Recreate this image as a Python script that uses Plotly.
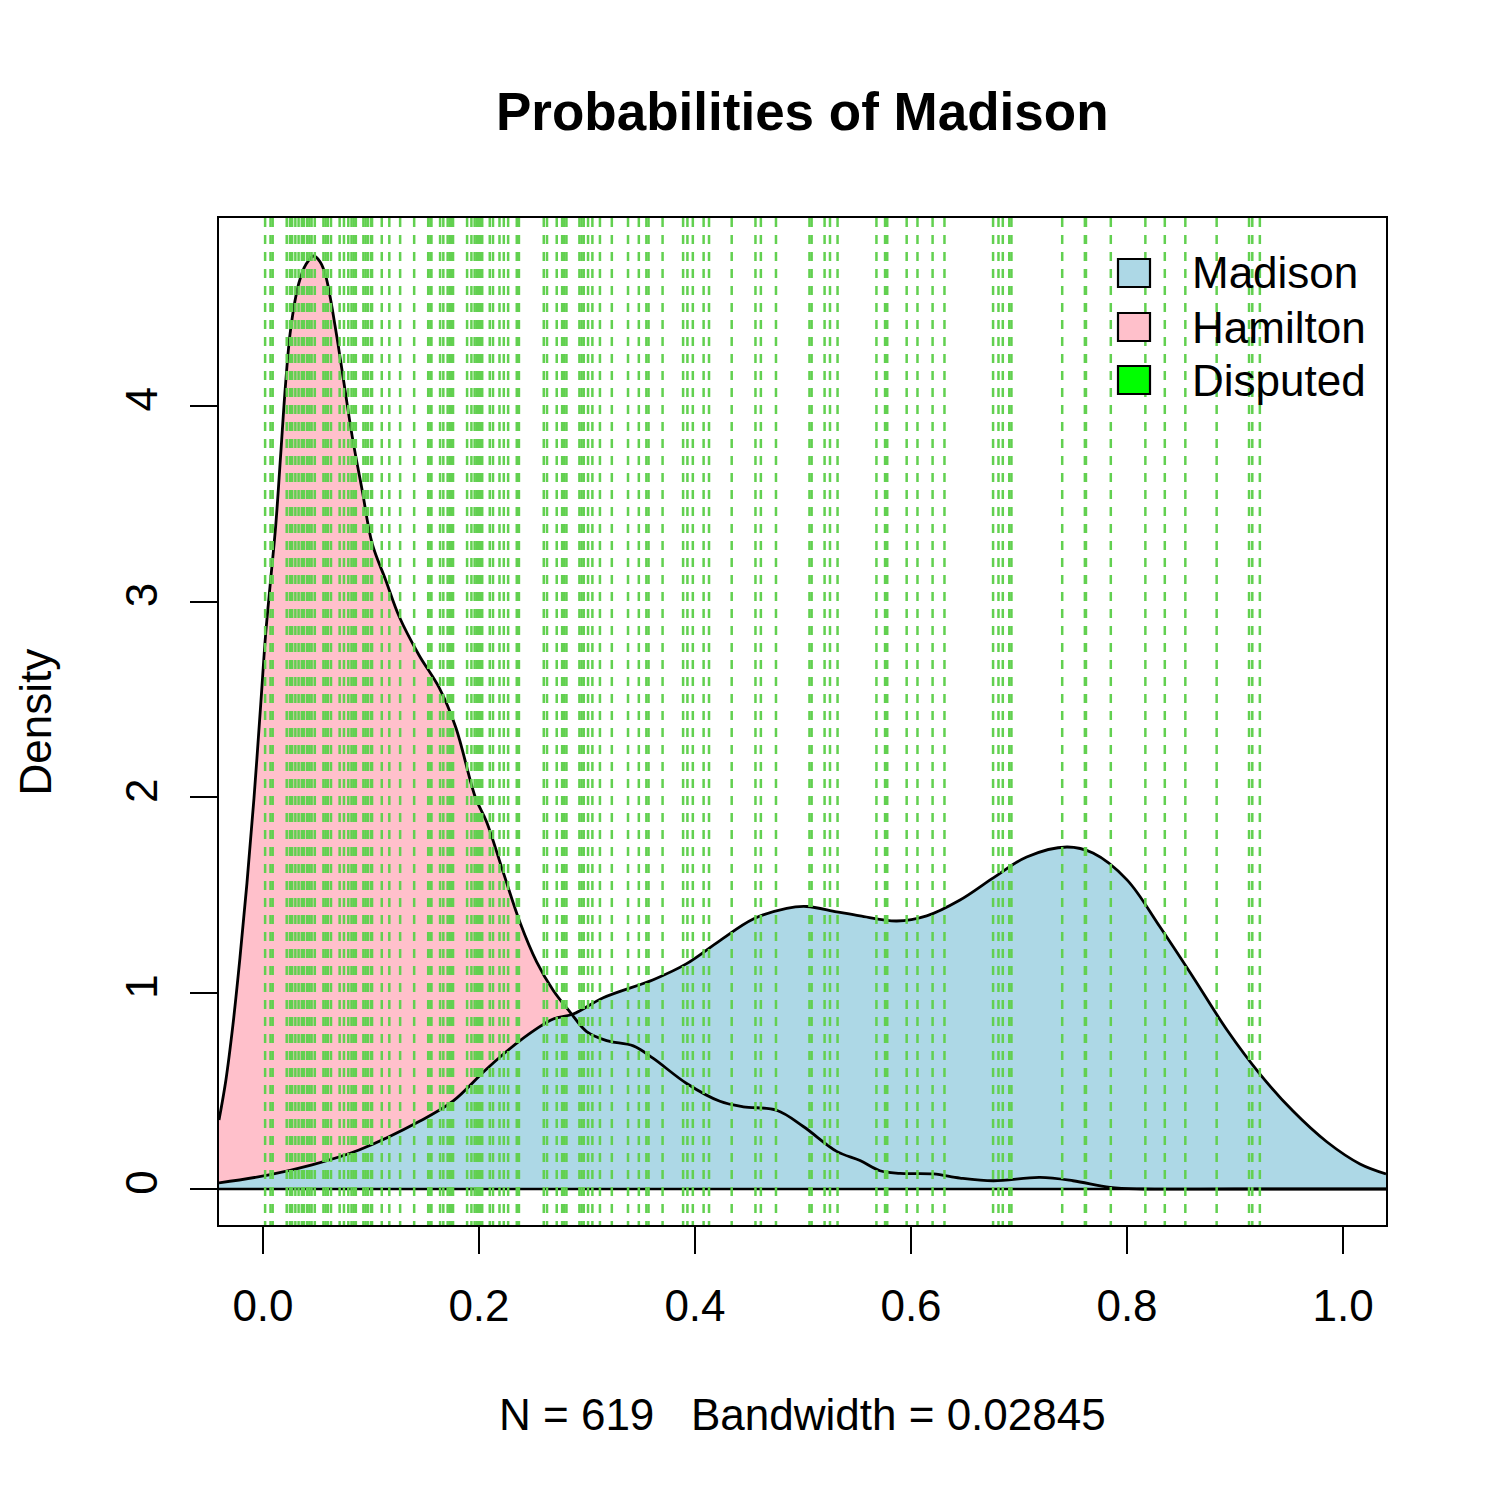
import plotly.graph_objects as go

# ---------------- data ----------------
hamilton_x = [-0.0407, -0.0343, -0.0278, -0.0213, -0.0148, -0.0083, -0.0021, 0.0025, 0.0071, 0.0118,
              0.0164, 0.0210, 0.0256, 0.0333, 0.0400, 0.0472, 0.0530, 0.0581, 0.0673, 0.0750,
              0.0827, 0.0919, 0.1012, 0.1136, 0.1259, 0.1444, 0.1630, 0.1784, 0.1969, 0.2071,
              0.2225, 0.2380, 0.2534, 0.2688, 0.2843, 0.2997, 0.3182, 0.3429, 0.3614, 0.3923,
              0.4231, 0.4447, 0.4756, 0.5003, 0.5312, 0.5528, 0.5713, 0.5898, 0.6208, 0.6454,
              0.6762, 0.7194, 0.7500, 0.7843, 0.8148, 0.9000, 1.0398]
hamilton_y = [0.352, 0.557, 0.838, 1.180, 1.563, 1.997, 2.473, 2.835, 3.111, 3.387,
              3.750, 4.117, 4.391, 4.628, 4.725, 4.766, 4.735, 4.664, 4.391, 4.117,
              3.842, 3.568, 3.295, 3.111, 2.927, 2.728, 2.562, 2.360, 1.997, 1.875,
              1.617, 1.361, 1.160, 1.014, 0.904, 0.804, 0.758, 0.731, 0.667, 0.539,
              0.448, 0.420, 0.402, 0.319, 0.192, 0.145, 0.093, 0.080, 0.077, 0.056,
              0.042, 0.059, 0.042, 0.008, 0.000, 0.000, 0.000]

madison_x = [-0.0407, 0.0056, 0.0454, 0.0889, 0.1454, 0.1762, 0.2071, 0.2380, 0.2688, 0.2873,
             0.3151, 0.3614, 0.3923, 0.4231, 0.4540, 0.4849, 0.5034, 0.5312, 0.5528, 0.5868,
             0.6145, 0.6454, 0.6762, 0.7071, 0.7444, 0.7685, 0.8000, 0.8306, 0.8611, 0.8926,
             0.9231, 0.9537, 0.9852, 1.0157, 1.0398]
madison_y = [0.031, 0.072, 0.123, 0.199, 0.347, 0.450, 0.613, 0.758, 0.868, 0.894,
             0.977, 1.069, 1.151, 1.269, 1.379, 1.434, 1.443, 1.416, 1.395, 1.369,
             1.395, 1.476, 1.589, 1.696, 1.747, 1.716, 1.579, 1.338, 1.083, 0.812,
             0.587, 0.398, 0.240, 0.128, 0.077]

disputed_probs = [0.002, 0.007, 0.009, 0.022, 0.025, 0.027, 0.030, 0.033, 0.036, 0.038,
                  0.041, 0.043, 0.045, 0.048, 0.056, 0.058, 0.060, 0.063, 0.071, 0.075,
                  0.079, 0.082, 0.084, 0.086, 0.093, 0.095, 0.097, 0.100, 0.101, 0.110,
                  0.117, 0.127, 0.140, 0.153, 0.155, 0.156, 0.164, 0.167, 0.171, 0.173,
                  0.174, 0.176, 0.189, 0.193, 0.196, 0.198, 0.199, 0.201, 0.203, 0.210,
                  0.213, 0.219, 0.223, 0.227, 0.235, 0.237, 0.260, 0.263, 0.272, 0.277,
                  0.279, 0.281, 0.293, 0.295, 0.297, 0.301, 0.305, 0.312, 0.323, 0.338,
                  0.348, 0.355, 0.357, 0.370, 0.389, 0.393, 0.398, 0.408, 0.413, 0.434,
                  0.456, 0.461, 0.475, 0.506, 0.508, 0.520, 0.525, 0.532, 0.568, 0.576,
                  0.578, 0.596, 0.606, 0.620, 0.631, 0.676, 0.681, 0.685, 0.691, 0.693,
                  0.740, 0.761, 0.762, 0.785, 0.817, 0.835, 0.854, 0.883, 0.913, 0.916,
                  0.923]

x_ticks = [0.0, 0.2, 0.4, 0.6, 0.8, 1.0]
y_ticks = [0, 1, 2, 3, 4]
legend_labels = ["Madison", "Hamilton", "Disputed"]
legend_colors = ["#ADD8E6", "#FFC0CB", "#00FF00"]

title_text = "Probabilities of Madison"
xlabel_text = "N = 619   Bandwidth = 0.02845"
ylabel_text = "Density"

# ---------------- layout constants (page pixels) ----------------
OFF = 8                      # page body margin
W = H = 1499 - OFF
L, R, T, B = 219, 1386, 218, 1225   # plot frame in page pixels
XR = [-0.0407, 1.0398]
YR = [-0.184, 4.960]
FONT = "Liberation Sans, Arial, Helvetica, sans-serif"
FS = 44
GREEN = "rgb(98,208,80)"


def px2paper_x(px):
    return (px - L) / (R - L)


def px2paper_y(py):
    return (B - py) / (B - T)


fig = go.Figure()

SPL = dict(shape="spline", smoothing=1.0)
fig.add_trace(go.Scatter(x=hamilton_x, y=hamilton_y, mode="lines", fill="tozeroy",
                         fillcolor="#FFC0CB", line=dict(width=0, **SPL),
                         hoverinfo="skip", showlegend=False))
fig.add_trace(go.Scatter(x=madison_x, y=madison_y, mode="lines", fill="tozeroy",
                         fillcolor="#ADD8E6", line=dict(width=0, **SPL),
                         hoverinfo="skip", showlegend=False))
fig.add_trace(go.Scatter(x=hamilton_x, y=hamilton_y, mode="lines",
                         line=dict(color="black", width=2.8, **SPL), showlegend=False))
fig.add_trace(go.Scatter(x=madison_x, y=madison_y, mode="lines",
                         line=dict(color="black", width=2.8, **SPL), showlegend=False))
fig.add_trace(go.Scatter(x=XR, y=[0, 0], mode="lines", line=dict(color="black", width=2.4),
                         showlegend=False))
vx, vy = [], []
for p in disputed_probs:
    vx += [p, p, None]
    vy += [YR[1], YR[0], None]
fig.add_trace(go.Scatter(x=vx, y=vy, mode="lines",
                         line=dict(color=GREEN, width=2.5, dash="9px,8px"),
                         showlegend=False, hoverinfo="skip"))

shapes = []
annotations = []
row_centers = [273, 327, 380]
for lab, col, cy in zip(legend_labels, legend_colors, row_centers):
    shapes.append(dict(type="rect", xref="paper", yref="paper",
                       x0=px2paper_x(1118), x1=px2paper_x(1150),
                       y0=px2paper_y(cy + 14), y1=px2paper_y(cy - 14),
                       fillcolor=col, line=dict(color="black", width=2.2), layer="above"))
    annotations.append(dict(text=lab, xref="paper", yref="paper",
                            x=px2paper_x(1190), y=px2paper_y(cy),
                            xanchor="left", yanchor="middle", showarrow=False,
                            font=dict(family=FONT, size=FS, color="black")))

annotations.append(dict(text="<b>" + title_text + "</b>", xref="paper", yref="paper",
                        x=0.5, y=px2paper_y(112), xanchor="center", yanchor="middle",
                        showarrow=False, font=dict(family=FONT, size=53, color="black")))
annotations.append(dict(text=xlabel_text, xref="paper", yref="paper",
                        x=0.5, y=px2paper_y(1414), xanchor="center", yanchor="middle",
                        showarrow=False, font=dict(family=FONT, size=FS, color="black")))
annotations.append(dict(text=ylabel_text, xref="paper", yref="paper",
                        x=px2paper_x(35), y=0.5, xanchor="center", yanchor="middle",
                        textangle=-90, showarrow=False,
                        font=dict(family=FONT, size=FS, color="black")))

fig.update_layout(
    width=W, height=H,
    margin=dict(l=L - OFF, r=W - (R - OFF), t=T - OFF, b=H - (B - OFF), autoexpand=False),
    paper_bgcolor="white", plot_bgcolor="white",
    showlegend=False,
    shapes=shapes, annotations=annotations,
    font=dict(family=FONT, size=FS, color="black"),
)
fig.update_xaxes(range=XR, tickvals=x_ticks, ticktext=[f"{v:.1f}" for v in x_ticks],
                 ticks="outside", ticklen=27, tickwidth=2, tickcolor="black",
                 showline=True, mirror=True, linecolor="black", linewidth=2.2,
                 showgrid=False, zeroline=False, ticklabelstandoff=14,
                 tickfont=dict(family=FONT, size=FS, color="black"))
fig.update_yaxes(range=YR, tickvals=y_ticks, ticktext=[str(v) for v in y_ticks],
                 ticks="outside", ticklen=27, tickwidth=2, tickcolor="black",
                 showline=True, mirror=True, linecolor="black", linewidth=2.2,
                 showgrid=False, zeroline=False, tickangle=-90, ticklabelstandoff=15,
                 tickfont=dict(family=FONT, size=FS, color="black"))

fig.write_html("out.html")
